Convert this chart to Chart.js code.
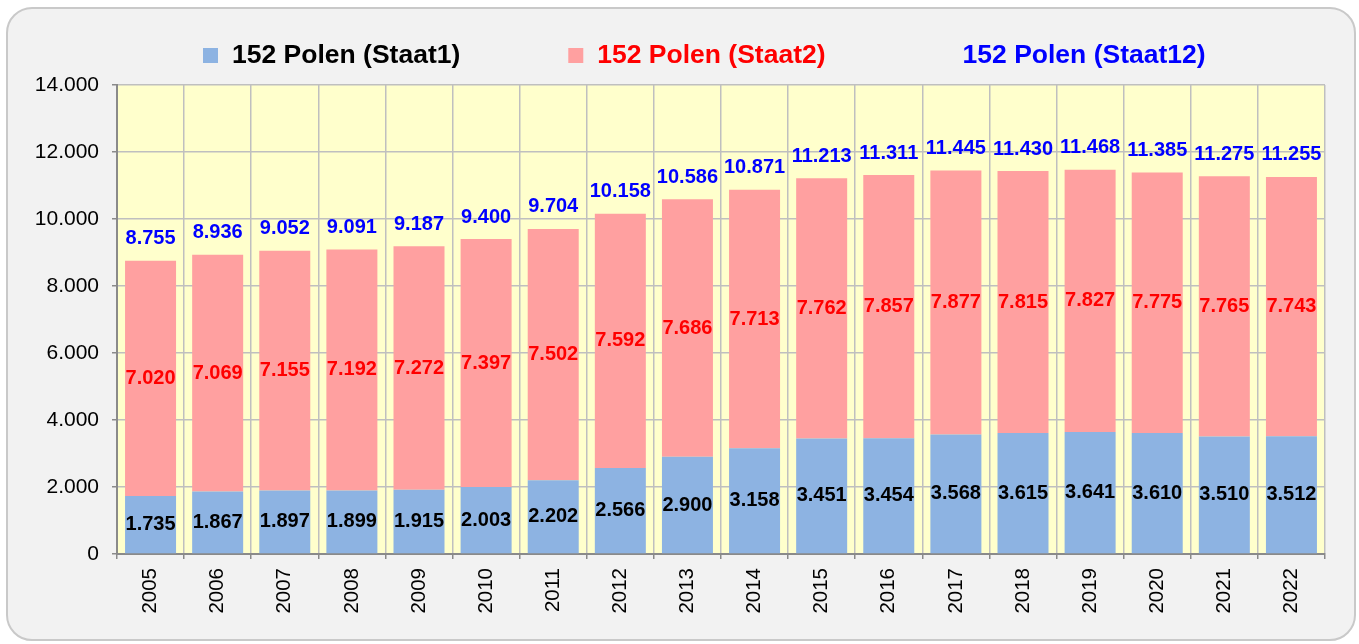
<!DOCTYPE html>
<html>
<head>
<meta charset="utf-8">
<script src="https://cdn.jsdelivr.net/npm/chart.js@4.4.1/dist/chart.umd.min.js"></script>
<style>
    body { margin: 0; background: #fff; }
    .wrap { position: relative; width: 1359px; height: 644px; }
    .frame {
        position: absolute; left: 6px; top: 7px; width: 1346px; height: 630px;
        border: 2px solid #c9c9c9; border-radius: 26px; background: #f2f2f2;
    }
    #chart { position: absolute; left: 0; top: 0; }
</style>
</head>
<body>
<div class="wrap">
    <div class="frame"></div>
    <canvas id="chart" width="1359" height="644"></canvas>
</div>
<script>
// data
const years = ['2005', '2006', '2007', '2008', '2009', '2010', '2011', '2012', '2013',
    '2014', '2015', '2016', '2017', '2018', '2019', '2020', '2021', '2022'];
const staat1 = [1735, 1867, 1897, 1899, 1915, 2003, 2202, 2566, 2900, 3158, 3451, 3454, 3568, 3615, 3641, 3610, 3510, 3512];
const staat2 = [7020, 7069, 7155, 7192, 7272, 7397, 7502, 7592, 7686, 7713, 7762, 7857, 7877, 7815, 7827, 7775, 7765, 7743];
const staat12 = [8755, 8936, 9052, 9091, 9187, 9400, 9704, 10158, 10586, 10871, 11213, 11311, 11445, 11430, 11468, 11385, 11275, 11255];
const seriesNames = ['152 Polen (Staat1)', '152 Polen (Staat2)', '152 Polen (Staat12)'];
const yMax = 14000;
const yStep = 2000;

const FONT = '"Liberation Sans", Arial, sans-serif';

function fmt(v) {
    return String(v).replace(/\B(?=(\d{3})+(?!\d))/g, '.');
}

// yellow plot area
const plotBg = {
    id: 'plotBg',
    beforeDraw(chart) {
        const a = chart.chartArea, ctx = chart.ctx;
        ctx.save();
        ctx.fillStyle = '#ffffcc';
        ctx.fillRect(a.left, a.top, a.right - a.left, a.bottom - a.top);
        ctx.restore();
    }
};

// value labels on and above the bars
const valueLabels = {
    id: 'valueLabels',
    afterDatasetsDraw(chart) {
        const ctx = chart.ctx;
        ctx.save();
        ctx.font = 'bold 20px ' + FONT;
        ctx.textAlign = 'center';
        ctx.textBaseline = 'middle';
        const textColors = ['#000000', '#ff0000'];
        chart.data.datasets.forEach((ds, di) => {
            chart.getDatasetMeta(di).data.forEach((bar, i) => {
                ctx.fillStyle = textColors[di];
                ctx.fillText(fmt(ds.data[i]), bar.x, (bar.y + bar.base) / 2);
            });
        });
        const xs = chart.scales.x, ys = chart.scales.y;
        ctx.fillStyle = '#0000ff';
        staat12.forEach((v, i) => {
            ctx.fillText(fmt(v), xs.getPixelForValue(i), ys.getPixelForValue(v) - 22);
        });
        ctx.restore();
    }
};

// legend drawn by hand so the wide gaps between items fit
const bigLegend = {
    id: 'bigLegend',
    afterDraw(chart) {
        const ctx = chart.ctx;
        const items = [
            { text: seriesNames[0], box: '#8db3e2', color: '#000000' },
            { text: seriesNames[1], box: '#ffa0a0', color: '#ff0000' },
            { text: seriesNames[2], box: null, color: '#0000ff' }
        ];
        ctx.save();
        ctx.font = 'bold 26.5px ' + FONT;
        ctx.textBaseline = 'middle';
        ctx.textAlign = 'left';
        let x = 203;
        items.forEach(it => {
            if (it.box) {
                ctx.fillStyle = it.box;
                ctx.fillRect(x, 48, 15, 15);
            }
            ctx.fillStyle = it.color;
            ctx.fillText(it.text, x + 29, 56);
            x += 29 + ctx.measureText(it.text).width + 108;
        });
        ctx.restore();
    }
};

new Chart(document.getElementById('chart'), {
    type: 'bar',
    data: {
        labels: years,
        datasets: [{
            label: seriesNames[0],
            data: staat1,
            backgroundColor: '#8db3e2',
            barPercentage: 0.76,
            categoryPercentage: 1
        }, {
            label: seriesNames[1],
            data: staat2,
            backgroundColor: '#ffa0a0',
            barPercentage: 0.76,
            categoryPercentage: 1
        }]
    },
    options: {
        responsive: false,
        animation: false,
        layout: { padding: { top: 85, right: 34, bottom: 0, left: 0 } },
        plugins: {
            legend: { display: false },
            tooltip: { enabled: false }
        },
        scales: {
            x: {
                stacked: true,
                grid: { color: '#bfbfbf', lineWidth: 1.5, tickLength: 5, tickColor: '#8a8a8a', offset: true },
                border: { color: '#8a8a8a', width: 2 },
                ticks: {
                    color: '#000',
                    font: { family: FONT, size: 20.5 },
                    minRotation: 90,
                    maxRotation: 90,
                    padding: 9
                },
                afterFit(scale) { scale.height = 90; }
            },
            y: {
                stacked: true,
                min: 0,
                max: yMax,
                grid: { color: '#bfbfbf', lineWidth: 1.5, tickLength: 5, tickColor: '#8a8a8a' },
                border: { color: '#8a8a8a', width: 2 },
                ticks: {
                    stepSize: yStep,
                    color: '#000',
                    font: { family: FONT, size: 21 },
                    padding: 13,
                    callback: v => fmt(v)
                },
                afterFit(scale) { scale.width = 117; }
            }
        }
    },
    plugins: [plotBg, valueLabels, bigLegend]
});
</script>
</body>
</html>
